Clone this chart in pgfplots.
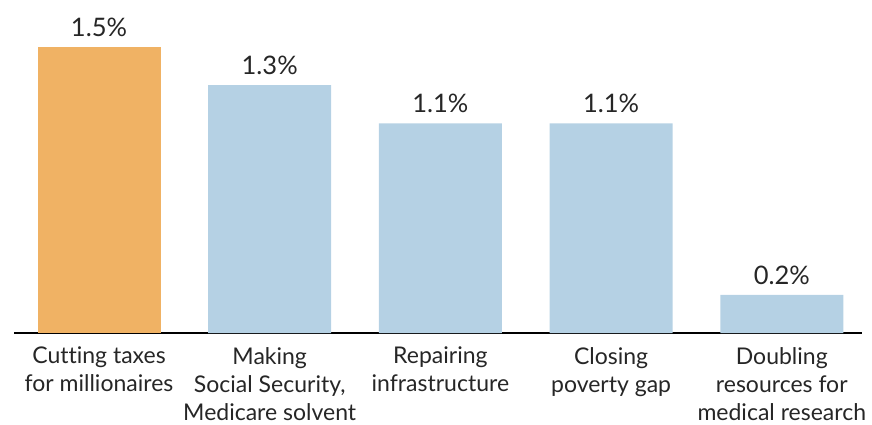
\documentclass[border=0pt]{standalone}
\usepackage{pgfplots}
\pgfplotsset{compat=1.18}
\usepackage{fontspec}
\setmainfont{Lato}[Ligatures=NoCommon]
\definecolor{orng}{HTML}{F0B264}
\definecolor{lblue}{HTML}{B5D1E4}
\begin{document}
\begin{tikzpicture}[x=1pt,y=1pt]
\path[use as bounding box] (0,0) rectangle (872,424);
\begin{axis}[at={(14pt,91pt)}, anchor=south west, scale only axis,
  width=848pt, height=286pt,
  xmin=-0.498, xmax=4.47, ymin=0, ymax=1.5,
  axis x line=bottom, axis y line=none,
  axis line style={black, line width=2pt, -},
  xtick={0,1,2,3,4},
  xticklabels={{Cutting taxes\\for millionaires},{Making\\Social Security,\\Medicare solvent},{Repairing\\infrastructure},{Closing\\poverty gap},{Doubling\\resources for\\medical research}},
  x tick label style={align=center, font=\fontsize{23}{28}\selectfont, inner sep=0pt, yshift=-14pt, text=black!85},
  major tick length=0pt,
  ybar, bar width=123pt, bar shift=0pt, clip=false,
  nodes near coords={\pgfmathprintnumber[fixed,precision=1,fixed zerofill,assume math mode=true]{\pgfplotspointmeta}\%},
  every node near coord/.append style={font=\fontsize{25.5}{28}\selectfont, inner sep=0pt, anchor=south, yshift=10pt, text=black!85},
]
\addplot[fill=orng, draw=none] coordinates {(0,1.5)};
\addplot[fill=lblue, draw=none] coordinates {(1,1.3) (2,1.1) (3,1.1) (4,0.2)};
\end{axis}
\end{tikzpicture}
\end{document}
